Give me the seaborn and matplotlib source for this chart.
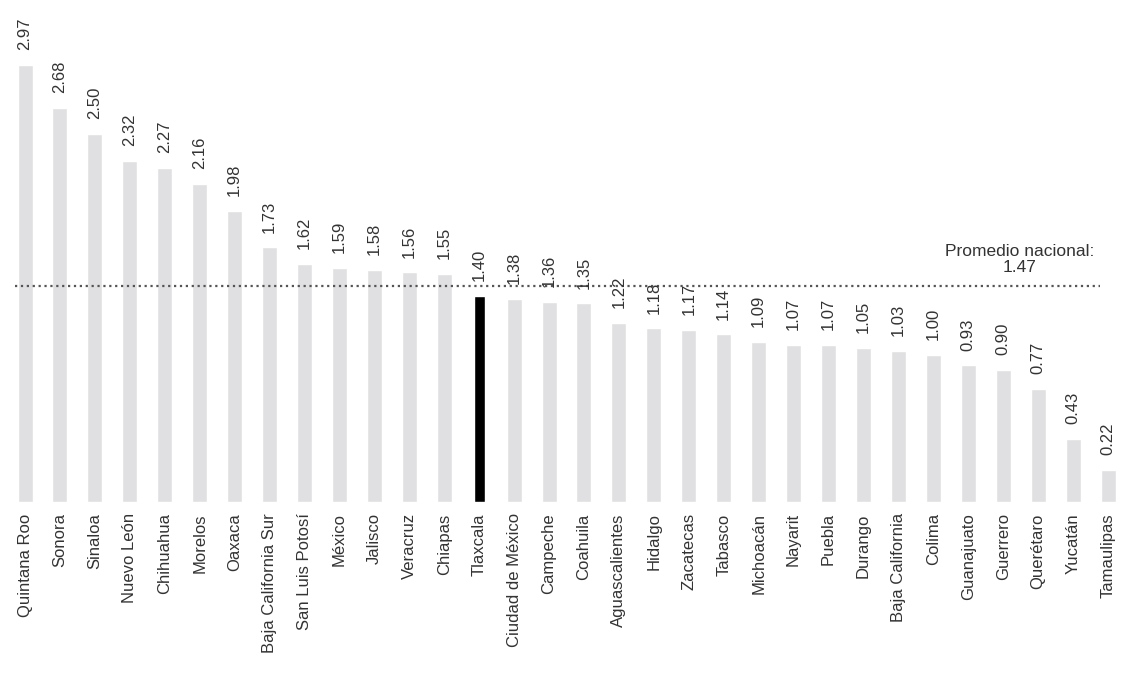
import matplotlib
matplotlib.use("Agg")
import matplotlib.pyplot as plt
import seaborn as sns
import pandas as pd

# Datos por entidad federativa (ordenados de mayor a menor)
states = [
    "Quintana Roo", "Sonora", "Sinaloa", "Nuevo León", "Chihuahua", "Morelos",
    "Oaxaca", "Baja California Sur", "San Luis Potosí", "México", "Jalisco",
    "Veracruz", "Chiapas", "Tlaxcala", "Ciudad de México", "Campeche",
    "Coahuila", "Aguascalientes", "Hidalgo", "Zacatecas", "Tabasco",
    "Michoacán", "Nayarit", "Puebla", "Durango", "Baja California", "Colima",
    "Guanajuato", "Guerrero", "Querétaro", "Yucatán", "Tamaulipas",
]
values = [
    2.97, 2.68, 2.50, 2.32, 2.27, 2.16, 1.98, 1.73, 1.62, 1.59, 1.58,
    1.56, 1.55, 1.40, 1.38, 1.36, 1.35, 1.22, 1.18, 1.17, 1.14, 1.09,
    1.07, 1.07, 1.05, 1.03, 1.00, 0.93, 0.90, 0.77, 0.43, 0.22,
]
highlight = "Tlaxcala"
national_avg = 1.47

df = pd.DataFrame({"estado": states, "valor": values})
colors = {s: ("#000000" if s == highlight else "#e0e0e2") for s in states}

sns.set_style("white")
plt.rcParams["font.family"] = ["Liberation Sans", "DejaVu Sans"]

fig = plt.figure(figsize=(11.22, 6.75), dpi=100)
ax = fig.add_axes([0.0, 0.256, 1.0, 0.744])

sns.barplot(data=df, x="estado", y="valor", hue="estado", palette=colors,
            legend=False, width=0.43, saturation=1, ax=ax)

# barra resaltada un poco mas angosta
for patch, s in zip(ax.patches, states):
    if s == highlight:
        cx = patch.get_x() + patch.get_width() / 2
        patch.set_width(0.32)
        patch.set_x(cx - 0.16)

# etiquetas de valor
for i, v in enumerate(values):
    ax.text(i, v + 0.1, f"{v:.2f}", rotation=90, ha="center", va="bottom",
            fontsize=12, color="#333333")

# promedio nacional
ax.hlines(national_avg, -0.29, 30.77, colors="#555555", linestyles=":",
          linewidth=1.6)
ax.text(28.48, national_avg + 0.07, f"Promedio nacional:\n{national_avg:.2f}",
        ha="center", va="bottom", multialignment="center", fontsize=12.5,
        color="#333333", linespacing=1.1)

ax.set_xlim(-0.716, 31.4)
ax.set_ylim(0, 3.41)
ax.set_xlabel("")
ax.set_ylabel("")
ax.set_yticks([])
ax.tick_params(axis="x", length=0, pad=8, labelsize=12, labelcolor="#333333")
plt.setp(ax.get_xticklabels(), rotation=90, ha="center", va="top")
sns.despine(ax=ax, left=True, bottom=True)

fig.savefig("out.png", dpi=100)
